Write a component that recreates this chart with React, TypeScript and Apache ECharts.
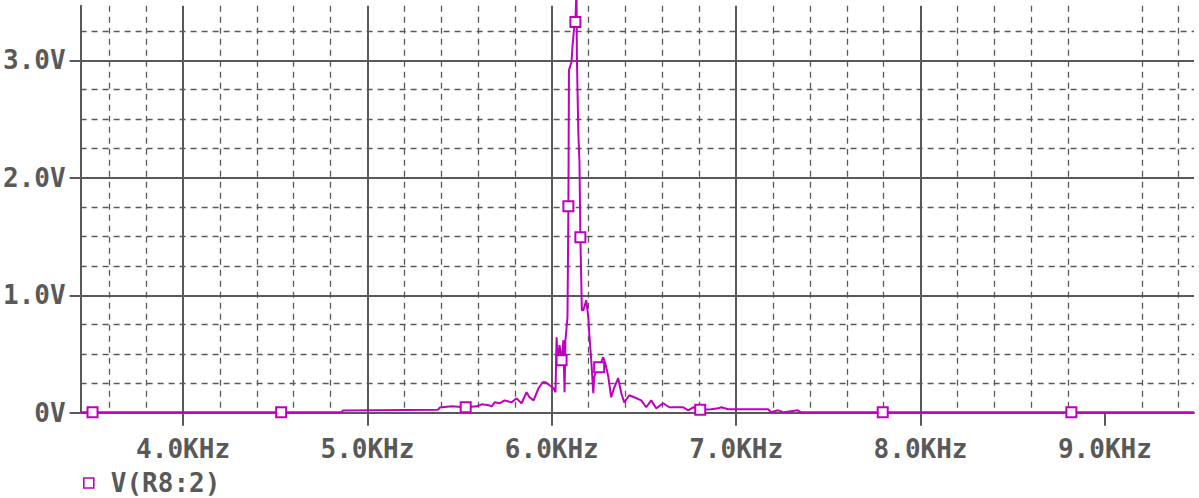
import { useEffect, useRef } from "react";
import * as echarts from "echarts";

// Sweep frequency (kHz) and voltage at node R8:2 (V)
const freqKHz = [
  3.444, 3.509, 4.532, 4.86, 4.866, 5.382, 5.393, 5.457, 5.533, 5.593,
  5.62, 5.658, 5.674, 5.69, 5.717, 5.744, 5.782, 5.809, 5.836, 5.863,
  5.879, 5.901, 5.928, 5.95, 5.966, 5.988, 6.009, 6.02, 6.026, 6.031,
  6.042, 6.053, 6.063, 6.069, 6.074, 6.085, 6.09, 6.093, 6.107, 6.112,
  6.12, 6.128, 6.134, 6.136, 6.144, 6.15, 6.155, 6.163, 6.171, 6.187,
  6.198, 6.203, 6.214, 6.225, 6.23, 6.241, 6.257, 6.279, 6.29, 6.306,
  6.322, 6.339, 6.36, 6.377, 6.393, 6.42, 6.447, 6.485, 6.512, 6.539,
  6.566, 6.604, 6.637, 6.675, 6.713, 6.74, 6.767, 6.805, 6.864, 6.903,
  6.919, 6.957, 7.173, 7.19, 7.227, 7.26, 7.335, 7.351, 7.795, 8.818,
  9.483,
];
const voltage = [
  0.004, 0.004, 0.004, 0.004, 0.02, 0.025, 0.045, 0.055, 0.047, 0.055,
  0.072, 0.064, 0.055, 0.089, 0.081, 0.106, 0.089, 0.123, 0.081, 0.175,
  0.132, 0.106, 0.209, 0.26, 0.26, 0.234, 0.21, 0.175, 0.643, 0.447,
  0.575, 0.447, 0.618, 0.175, 0.618, 0.813, 1.759, 2.917, 2.986, 3.113,
  3.258, 3.326, 3.62, 3.028, 2.38, 2.134, 1.495, 0.873, 0.873, 0.958,
  0.813, 0.677, 0.447, 0.166, 0.302, 0.362, 0.388, 0.473, 0.422, 0.311,
  0.132, 0.217, 0.294, 0.166, 0.089, 0.149, 0.132, 0.106, 0.047, 0.106,
  0.038, 0.081, 0.047, 0.047, 0.047, 0.021, 0.047, 0.026, 0.03, 0.038,
  0.047, 0.03, 0.03, 0.004, 0.021, 0.004, 0.021, 0.004, 0.004, 0.004,
  0.004,
];
// Points that carry a trace marker
const markerIndex = [1, 2, 8, 31, 36, 41, 46, 56, 77, 88, 89];

const xTicks = [4, 5, 6, 7, 8, 9];
const yTicks = [0, 1, 2, 3];
const traceName = "V(R8:2)";

const INK = "#595959";
const TRACE = "#bf00bf";
const FONT = "'DejaVu Sans Mono', monospace";

const labelFont = {
  color: INK,
  fontFamily: FONT,
  fontSize: 26,
  fontWeight: "bold" as const,
};

export default function App() {
  const ref = useRef<HTMLDivElement>(null);

  useEffect(() => {
    const chart = echarts.init(ref.current!, null, { renderer: "svg" });
    const points = freqKHz.map((f, i) =>
      markerIndex.includes(i)
        ? { value: [f, voltage[i]], symbol: "emptyRect", symbolSize: 10 }
        : { value: [f, voltage[i]] }
    );

    chart.setOption({
      animation: false,
      backgroundColor: "#ffffff",
      grid: { left: 78, right: 5, top: 5.7, bottom: 85.2, containLabel: false },
      legend: {
        data: [
          {
            name: traceName,
            icon: "rect",
            itemStyle: { color: "#ffffff", borderColor: TRACE, borderWidth: 1.6 },
          },
        ],
        left: 83,
        top: 470,
        padding: 0,
        itemWidth: 10,
        itemHeight: 10,
        selectedMode: false,
        textStyle: { ...labelFont, padding: [0, 0, 0, 12] },
      },
      xAxis: {
        type: "value",
        min: 3.4443,
        max: 9.4832,
        minInterval: 1,
        maxInterval: 1,
        axisLine: { show: true, onZero: false, lineStyle: { color: INK, width: 2 } },
        axisTick: {
          show: true,
          customValues: xTicks,
          length: 13,
          lineStyle: { color: INK, width: 2 },
        },
        axisLabel: {
          ...labelFont,
          customValues: xTicks,
          margin: 23,
          formatter: (v: number) => `${v.toFixed(1)}KHz`,
        },
        splitLine: {
          show: true,
          showMinLine: true,
          showMaxLine: false,
          lineStyle: { color: INK, width: 2 },
        },
        minorTick: { show: false, splitNumber: 5 },
        minorSplitLine: {
          show: true,
          lineStyle: { color: INK, width: 1.3, type: [6, 5] },
        },
      },
      yAxis: {
        type: "value",
        min: 0,
        max: 3.465,
        interval: 1,
        axisLine: { show: true, lineStyle: { color: INK, width: 2 } },
        axisTick: {
          show: true,
          customValues: yTicks,
          length: 11,
          lineStyle: { color: INK, width: 2 },
        },
        axisLabel: {
          ...labelFont,
          customValues: yTicks,
          margin: 15,
          formatter: (v: number) => (v === 0 ? "0V" : `${v.toFixed(1)}V`),
        },
        splitLine: {
          show: true,
          showMinLine: true,
          showMaxLine: true,
          lineStyle: { color: INK, width: 2 },
        },
        minorTick: { show: false, splitNumber: 4 },
        minorSplitLine: {
          show: true,
          lineStyle: { color: INK, width: 1.3, type: [6, 5] },
        },
      },
      series: [
        {
          name: traceName,
          type: "line",
          data: points,
          symbol: "none",
          showAllSymbol: true,
          clip: false,
          color: TRACE,
          lineStyle: { color: TRACE, width: 2 },
          itemStyle: { color: TRACE, borderColor: TRACE, borderWidth: 1.6 },
          emphasis: { disabled: true },
          z: 5,
        },
      ],
    });

    return () => chart.dispose();
  }, []);

  return (
    <div
      ref={ref}
      style={{ position: "absolute", left: 0, top: 0, width: 1199, height: 498 }}
    />
  );
}
